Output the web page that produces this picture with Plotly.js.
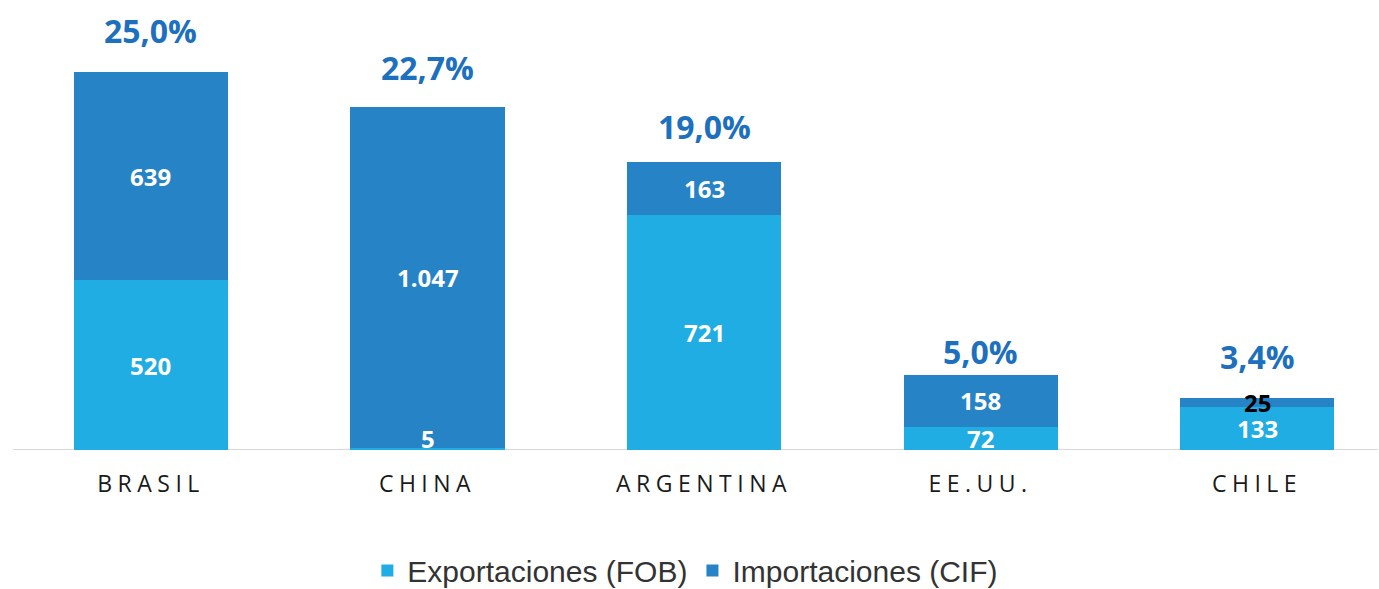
<!DOCTYPE html>
<html>
<head>
<meta charset="utf-8">
<script src="https://cdn.plot.ly/plotly-3.0.1.min.js"></script>
<style>
  html, body { margin: 0; padding: 0; background: #fff; }
  #chart { width: 1379px; height: 589px; }
  .xtick text { letter-spacing: 5.5px; }
</style>
</head>
<body>
<div id="chart"></div>
<script>
// ---- Data ----
const categories = ['BRASIL', 'CHINA', 'ARGENTINA', 'EE.UU.', 'CHILE'];
const exportaciones = [520, 5, 721, 72, 133];
const importaciones = [639, 1047, 163, 158, 25];
const exportLabels = ['520', '5', '721', '72', '133'];
const importLabels = ['639', '1.047', '163', '158', '25'];
const shareLabels = ['25,0%', '22,7%', '19,0%', '5,0%', '3,4%'];

// ---- Style ----
const colExp = '#1FADE3';
const colImp = '#2683C6';
const colShare = '#1D70BE';
const shareShift = [42, 39, 35, 24, 42];        // px above bar top
const importLabelColor = ['#fff', '#fff', '#fff', '#fff', '#000'];
const minLabelY = 36;

const traces = [
  {
    type: 'bar', name: 'Exportaciones (FOB)', x: categories, y: exportaciones,
    marker: { color: colExp }, hoverinfo: 'skip'
  },
  {
    type: 'bar', name: 'Importaciones (CIF)', x: categories, y: importaciones,
    marker: { color: colImp }, hoverinfo: 'skip'
  }
];

const valFont = { family: 'Open Sans, sans-serif', size: 24, weight: 700 };
const annotations = [];
categories.forEach((c, i) => {
  const e = exportaciones[i], m = importaciones[i];
  annotations.push({
    x: c, y: Math.max(e / 2, minLabelY), xref: 'x', yref: 'y', text: exportLabels[i],
    showarrow: false, yanchor: 'middle',
    font: Object.assign({}, valFont, { color: '#fff' })
  });
  annotations.push({
    x: c, y: e + m / 2, xref: 'x', yref: 'y', text: importLabels[i],
    showarrow: false, yanchor: 'middle',
    font: Object.assign({}, valFont, { color: importLabelColor[i] })
  });
  annotations.push({
    x: c, y: e + m, xref: 'x', yref: 'y', text: shareLabels[i],
    showarrow: false, yanchor: 'middle', yshift: shareShift[i],
    font: { family: 'Open Sans, sans-serif', size: 32, weight: 700, color: colShare }
  });
});

const layout = {
  width: 1379, height: 589,
  margin: { l: 0, r: 0, t: 0, b: 139, autoexpand: false },
  paper_bgcolor: '#fff', plot_bgcolor: '#fff',
  barmode: 'stack',
  bargap: 0.443,
  showlegend: true,
  xaxis: {
    range: [-0.546, 4.441],
    showgrid: false, zeroline: false, showline: false,
    ticks: '', ticklabelstandoff: 18,
    tickfont: { family: 'Open Sans, sans-serif', size: 23, color: '#1a1a1a' },
    fixedrange: true
  },
  yaxis: {
    range: [0, 1380],
    visible: false, showgrid: false, zeroline: false, fixedrange: true
  },
  shapes: [{
    type: 'line', xref: 'paper', yref: 'y',
    x0: 13 / 1379, x1: 1378 / 1379, y0: 0, y1: 0,
    line: { color: '#D9D9D9', width: 2 }, layer: 'below'
  }],
  legend: {
    orientation: 'h', x: 0.497, xanchor: 'center', y: -0.268, yanchor: 'middle',
    font: { family: 'Liberation Sans, Arial, sans-serif', size: 30, color: '#333' },
    itemwidth: 30, tracegroupgap: 0, traceorder: 'normal'
  },
  annotations: annotations
};

Plotly.newPlot('chart', traces, layout, { displayModeBar: false, staticPlot: true });
</script>
</body>
</html>
